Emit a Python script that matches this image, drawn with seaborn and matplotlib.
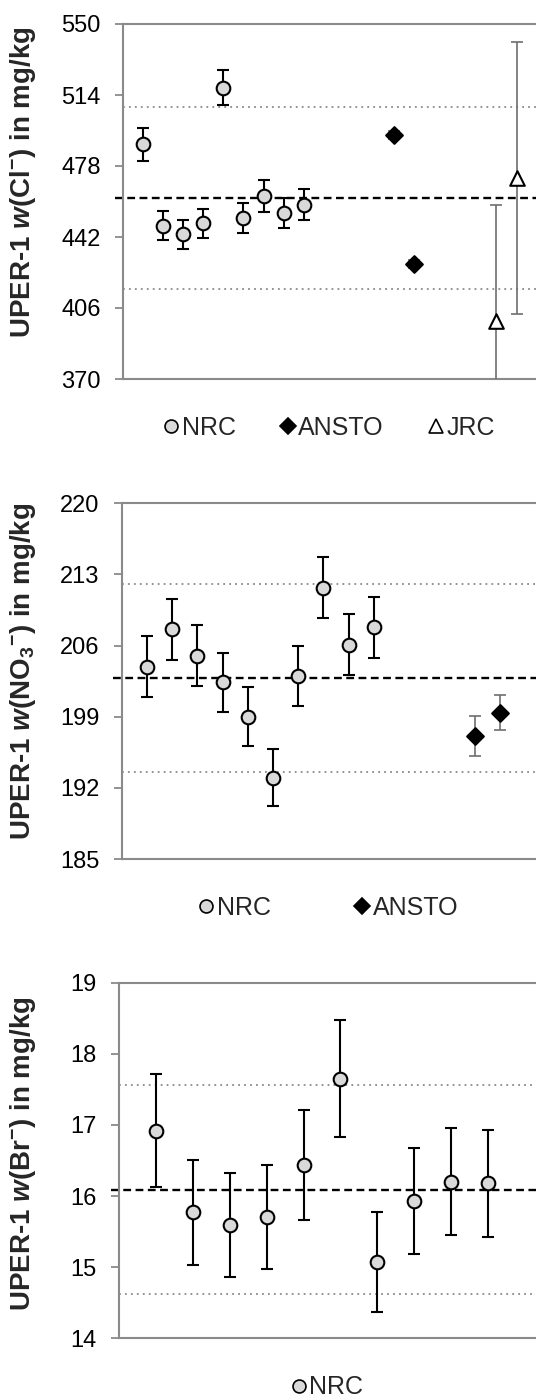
import numpy as np
import pandas as pd
import matplotlib
matplotlib.use("Agg")
import matplotlib.pyplot as plt
from matplotlib.lines import Line2D
import seaborn as sns

# --- data: chloride panel ---
cl_nrc_x = [1, 2, 3, 4, 5, 6, 7, 8, 9]
cl_nrc = [489.0, 447.7, 443.4, 448.9, 517.7, 451.5, 462.8, 454.3, 458.4]
cl_nrc_u = [8.4, 7.3, 7.3, 7.5, 8.9, 7.6, 7.9, 7.5, 7.8]
cl_ansto_x = [13.5, 14.5]
cl_ansto = [493.7, 428.2]
cl_ansto_u = [2.0, 2.0]
cl_jrc_x = [18.6, 19.6]
cl_jrc = [399.6, 471.8]
cl_jrc_u = [58.6, 69.0]
cl_ref, cl_ref_u = 461.8, 46.1
cl_ticks = [370, 406, 442, 478, 514, 550]

# --- data: nitrate panel ---
no3_nrc_x = [1, 2, 3, 4, 5, 6, 7, 8, 9, 10]
no3_nrc = [203.9, 207.6, 205.0, 202.4, 199.0, 193.0, 203.0, 211.7, 206.1, 207.8]
no3_nrc_u = [3.0, 3.0, 3.0, 2.9, 2.9, 2.8, 2.95, 3.0, 3.0, 3.0]
no3_ansto_x = [14, 15]
no3_ansto = [197.1, 199.4]
no3_ansto_u = [2.0, 1.7]
no3_ref, no3_ref_u = 202.8, 9.25
no3_ticks = [185, 192, 199, 206, 213, 220]

# --- data: bromide panel ---
br_nrc_x = [1, 2, 3, 4, 5, 6, 7, 8, 9, 10]
br_nrc = [16.92, 15.77, 15.59, 15.70, 16.44, 17.65, 15.07, 15.93, 16.20, 16.18]
br_nrc_u = [0.79, 0.74, 0.73, 0.73, 0.77, 0.82, 0.70, 0.74, 0.75, 0.75]
br_ref, br_ref_u = 16.09, 1.47
br_ticks = [14, 15, 16, 17, 18, 19]

GRAY = "#8a8a8a"
STYLE = {
    "NRC":   dict(marker="o", face="#d9d9d9", ms=9.8, ecol="black", elw=1.5, cap=4.5),
    "ANSTO": dict(marker="D", face="black", ms=8.5, ecol="#6e6e6e", elw=1.2, cap=4.5),
    "JRC":   dict(marker="^", face="white", ms=10.5, ecol="#6e6e6e", elw=1.2, cap=4.5),
}

sns.set_theme(style="white")
plt.rcParams["font.family"] = ["Liberation Sans", "DejaVu Sans"]
plt.rcParams["mathtext.fontset"] = "custom"
plt.rcParams["mathtext.rm"] = "Liberation Sans:bold"
plt.rcParams["mathtext.it"] = "Liberation Sans:italic:bold"
plt.rcParams["mathtext.bf"] = "Liberation Sans:bold"

W, H = 536, 1398
fig = plt.figure(figsize=(W / 100, H / 100), dpi=100)


def panel(left, top, bottom, groups, ref, ref_u, ticks, xmax, ylabel, lab_y, colsp):
    ax = fig.add_axes([left / W, 1 - bottom / H, 1 - left / W, (bottom - top) / H])
    for name, xs, ys, us in groups:
        st = STYLE[name]
        ax.errorbar(xs, ys, yerr=us, fmt="none", ecolor=st["ecol"], elinewidth=st["elw"],
                    capsize=st["cap"], capthick=st["elw"], zorder=3)
        df = pd.DataFrame({"x": xs, "y": ys})
        sns.scatterplot(data=df, x="x", y="y", ax=ax, marker=st["marker"], s=st["ms"] ** 2,
                        color=st["face"], edgecolor="black", linewidth=1.5, zorder=4, legend=False)
    # reference value and expanded uncertainty
    ax.axhline(ref, xmin=-0.02, color="black", lw=1.7, ls=(0, (3.3, 1.9)), clip_on=False, zorder=2)
    ax.axhline(ref + ref_u, color=GRAY, lw=1.3, ls=(0, (1, 2.3)), zorder=1)
    ax.axhline(ref - ref_u, color=GRAY, lw=1.3, ls=(0, (1, 2.3)), zorder=1)

    ax.set_xlim(0, xmax)
    ax.set_ylim(ticks[0], ticks[-1])
    ax.set_yticks(ticks)
    ax.set_yticklabels([str(t) for t in ticks])
    ax.set_xticks([])
    ax.set_xlabel("")
    ax.tick_params(axis="y", left=True, direction="out", length=5.5, width=1.3, color=GRAY,
                   pad=10.5, labelsize=17, labelcolor="black")
    for s in ["left", "bottom", "top"]:
        ax.spines[s].set_color(GRAY)
        ax.spines[s].set_linewidth(1.5)
    ax.spines["right"].set_visible(False)

    ax.set_ylabel(ylabel, fontsize=20, fontweight="bold")
    ax.yaxis.set_label_coords((38 - left) / (W - left), lab_y)

    handles = []
    for name, *_ in groups:
        st = STYLE[name]
        handles.append(Line2D([], [], ls="none", marker=st["marker"], markersize=st["ms"] * 0.95,
                              markerfacecolor=st["face"], markeredgecolor="black", markeredgewidth=1.2,
                              label=name))
    ax.legend(handles=handles, loc="center", bbox_to_anchor=(0.5, -49 / (bottom - top)),
              ncol=len(handles), frameon=False, fontsize=18, handlelength=0.55,
              handletextpad=0.15, columnspacing=colsp, borderaxespad=0)
    return ax


panel(123, 24, 379,
      [("NRC", cl_nrc_x, cl_nrc, cl_nrc_u),
       ("ANSTO", cl_ansto_x, cl_ansto, cl_ansto_u),
       ("JRC", cl_jrc_x, cl_jrc, cl_jrc_u)],
      cl_ref, cl_ref_u, cl_ticks, 20.57,
      r"UPER-1 $w$(Cl$^{-}$) in mg/kg", 0.5535, 1.8)

panel(121.7, 503.3, 859,
      [("NRC", no3_nrc_x, no3_nrc, no3_nrc_u),
       ("ANSTO", no3_ansto_x, no3_ansto, no3_ansto_u)],
      no3_ref, no3_ref_u, no3_ticks, 16.44,
      r"UPER-1 $w$(NO$_3$$^{-}$) in mg/kg", 0.526, 3.4)

panel(119, 982.7, 1338.3,
      [("NRC", br_nrc_x, br_nrc, br_nrc_u)],
      br_ref, br_ref_u, br_ticks, 11.3,
      r"UPER-1 $w$(Br$^{-}$) in mg/kg", 0.518, 2.0)

fig.savefig("out.png", dpi=100)
